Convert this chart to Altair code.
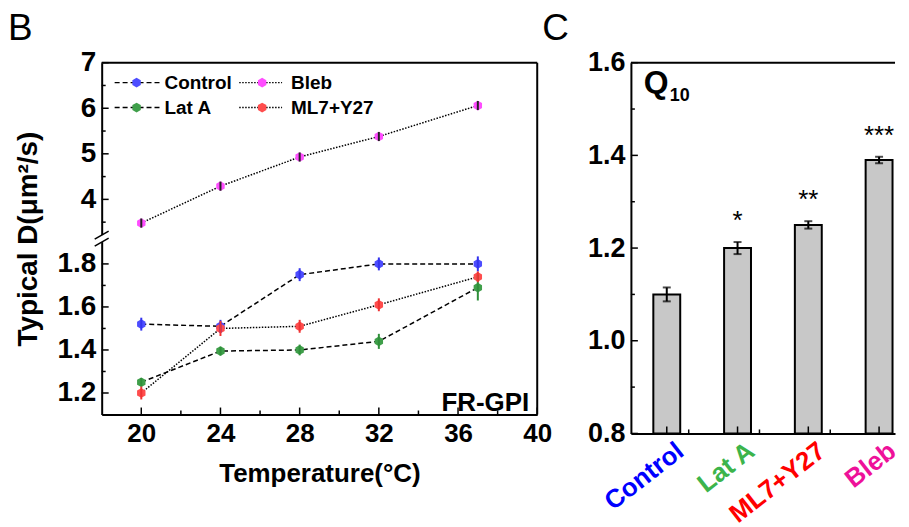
import altair as alt
import pandas as pd

FONT = "Liberation Sans"

# ---------------- Panel B data ----------------
temps = [20, 24, 28, 32, 37]
series_names = ["Control", "Lat A", "Bleb", "ML7+Y27"]
control_d = [1.52, 1.51, 1.75, 1.80, 1.80]
control_err = [0.03, 0.03, 0.03, 0.03, 0.035]
lata_d = [1.25, 1.395, 1.40, 1.44, 1.69]
lata_err = [0.02, 0.02, 0.025, 0.035, 0.06]
bleb_d = [3.48, 4.29, 4.93, 5.38, 6.06]
bleb_err = [0.1, 0.1, 0.1, 0.1, 0.1]
ml7_d = [1.20, 1.50, 1.51, 1.61, 1.74]
ml7_err = [0.03, 0.035, 0.03, 0.03, 0.025]

marker_colors = ["#4d4dff", "#3f9f4a", "#ff4dff", "#ff4d4d"]
err_colors = ["#3333ee", "#2f8f3a", "#222222", "#ee3333"]
dash_styles = [[5, 3], [5, 3], [1.5, 1.5], [1.5, 1.5]]

x_major = [20, 24, 28, 32, 36, 40]
x_minor = [22, 26, 30, 34, 38]
y_major = [1.2, 1.4, 1.6, 1.8, 4, 5, 6, 7]
y_minor = [1.3, 1.5, 1.7, 3.5, 4.5, 5.5, 6.5]

# ---------------- Panel C data ----------------
cats = ["Control", "Lat A", "ML7+Y27", "Bleb"]
q10 = [1.10, 1.20, 1.25, 1.39]
q10_err = [0.015, 0.013, 0.008, 0.007]
stars = ["", "*", "**", "***"]
cat_colors = ["#0000ff", "#3cb44b", "#ff0000", "#ee1199"]
c_major = [0.8, 1.0, 1.2, 1.4, 1.6]
c_minor = [0.9, 1.1, 1.3, 1.5]

HEX = "M0,-1L0.866,-0.5L0.866,0.5L0,1L-0.866,0.5L-0.866,-0.5Z"

rows = []
for name, vals, errs, mc, ec in zip(
    series_names,
    [control_d, lata_d, bleb_d, ml7_d],
    [control_err, lata_err, bleb_err, ml7_err],
    marker_colors,
    err_colors,
):
    for t, v, e in zip(temps, vals, errs):
        rows.append(dict(series=name, T=t, D=v, lo=v - e, hi=v + e, mcolor=mc, ecolor=ec))
df = pd.DataFrame(rows)

WB, HB = 437, 353
BRK = 176
xscale = alt.Scale(domain=[18, 40], nice=False, zero=False)
yscale = alt.Scale(domain=[1.1, 1.92, 3.15, 7], range=[HB, BRK, BRK, 0], nice=False, zero=False)

axB_x = alt.Axis(
    values=x_major, ticks=False, grid=False, labelFont=FONT, labelFontSize=26,
    labelFontWeight="bold", labelColor="black", labelPadding=6, labelFlush=False,
    domainColor="black", domainWidth=2, title="Temperature(°C)",
    titleFont=FONT, titleFontSize=26, titleFontWeight="bold", titleColor="black",
    titlePadding=14,
)
axB_y = alt.Axis(
    values=y_major, ticks=False, grid=False,
    labelExpr="datum.value > 3 ? format(datum.value, 'd') : format(datum.value, '.1f')",
    labelFont=FONT, labelFontSize=28, labelFontWeight="bold", labelColor="black",
    labelPadding=6, labelFlush=False, domainColor="black", domainWidth=2,
    title="Typical D(μm²/s)", titleFont=FONT, titleFontSize=28,
    titleFontWeight="bold", titleColor="black", titlePadding=14,
)

def XB(f):
    return alt.X(f, type="quantitative", scale=xscale, axis=axB_x)

def YB(f):
    return alt.Y(f, type="quantitative", scale=yscale, axis=axB_y)

base = alt.Chart(df)
lines = base.mark_line(color="black", strokeWidth=1.5).encode(
    x=XB("T"), y=YB("D"),
    detail="series:N",
    strokeDash=alt.StrokeDash(
        "series:N", scale=alt.Scale(domain=series_names, range=dash_styles), legend=None
    ),
)
points = base.mark_point(shape=HEX, filled=True, size=95, opacity=1).encode(
    x=XB("T"), y=YB("D"), color=alt.Color("mcolor:N", scale=None),
)
errs = base.mark_rule(strokeWidth=2).encode(
    x=XB("T"), y=YB("lo"), y2="hi:Q", color=alt.Color("ecolor:N", scale=None),
)

ytick_major = alt.Chart(pd.DataFrame({"v": y_major})).mark_rule(color="black", strokeWidth=1.5).encode(
    y=YB("v"), x=alt.value(0), x2=alt.value(7)
)
ytick_minor = alt.Chart(pd.DataFrame({"v": y_minor})).mark_rule(color="black", strokeWidth=1.5).encode(
    y=YB("v"), x=alt.value(0), x2=alt.value(4)
)
xtick_major = alt.Chart(pd.DataFrame({"v": x_major})).mark_rule(color="black", strokeWidth=1.5).encode(
    x=XB("v"), y=alt.value(HB), y2=alt.value(HB - 7)
)
xtick_minor = alt.Chart(pd.DataFrame({"v": x_minor})).mark_rule(color="black", strokeWidth=1.5).encode(
    x=XB("v"), y=alt.value(HB), y2=alt.value(HB - 4)
)

one = pd.DataFrame({"a": [0]})
frame_top = alt.Chart(one).mark_rule(color="black", strokeWidth=2).encode(
    x=alt.value(0), x2=alt.value(WB), y=alt.value(0)
)
frame_right = alt.Chart(one).mark_rule(color="black", strokeWidth=2).encode(
    x=alt.value(WB), y=alt.value(0), y2=alt.value(HB)
)
cover = alt.Chart(one).mark_rect(color="white").encode(
    x=alt.value(-6), x2=alt.value(6), y=alt.value(BRK - 3), y2=alt.value(BRK + 4)
)
slash1 = alt.Chart(one).mark_rule(color="black", strokeWidth=1.5).encode(
    x=alt.value(-7), x2=alt.value(7), y=alt.value(BRK + 1), y2=alt.value(BRK - 7)
)
slash2 = alt.Chart(one).mark_rule(color="black", strokeWidth=1.5).encode(
    x=alt.value(-7), x2=alt.value(7), y=alt.value(BRK + 8), y2=alt.value(BRK)
)
fr_gpi = alt.Chart(one).mark_text(
    text="FR-GPI", font=FONT, fontSize=26, fontWeight="bold", align="right", baseline="alphabetic", color="black"
).encode(x=alt.value(WB - 8), y=alt.value(HB - 4))
label_b = alt.Chart(one).mark_text(
    text="B", font=FONT, fontSize=37, align="left", baseline="alphabetic", color="black"
).encode(x=alt.value(-94), y=alt.value(-23))

legend_layers = []
for i, name in enumerate(series_names):
    col, row = i // 2, i % 2
    x0 = [13, 138][col]
    x1 = [58, 181][col]
    mx = [35, 161][col]
    tx = [63, 190][col]
    ly = [20, 45][row]
    src = alt.Chart(pd.DataFrame({"series": [name]}))
    legend_layers.append(
        src.mark_rule(color="black", strokeWidth=1.5, strokeDash=dash_styles[i]).encode(
            x=alt.value(x0), x2=alt.value(x1), y=alt.value(ly)
        )
    )
    legend_layers.append(
        src.mark_point(shape=HEX, filled=True, size=95, opacity=1, color=marker_colors[i]).encode(
            x=alt.value(mx), y=alt.value(ly)
        )
    )
    legend_layers.append(
        src.mark_text(
            text=name, font=FONT, fontSize=19, fontWeight="bold", align="left", baseline="middle", color="black"
        ).encode(x=alt.value(tx), y=alt.value(ly))
    )

panel_b = alt.layer(
    lines, points, errs, ytick_major, ytick_minor, xtick_major, xtick_minor,
    frame_top, frame_right, cover, slash1, slash2, fr_gpi, label_b, *legend_layers
).properties(width=WB, height=HB)

# ---------------- Panel C ----------------
WC, HC = 265, 372
cdf = pd.DataFrame({
    "cat": cats, "q": q10, "lo": [q - e for q, e in zip(q10, q10_err)],
    "hi": [q + e for q, e in zip(q10, q10_err)], "stars": stars, "lcolor": cat_colors,
})
xs_c = alt.Scale(domain=cats, paddingInner=0.62, paddingOuter=0.176, align=0.9)
ys_c = alt.Scale(domain=[0.8, 1.6], nice=False, zero=False)
axC_x = alt.Axis(labels=False, ticks=False, title=None, domainColor="black", domainWidth=2, grid=False)
axC_y = alt.Axis(
    values=c_major, format=".1f", ticks=False, grid=False, title=None,
    labelFont=FONT, labelFontSize=27, labelFontWeight="bold", labelColor="black",
    labelPadding=6, labelFlush=False, domainColor="black", domainWidth=2,
)

def XC(**kw):
    return alt.X("cat", type="nominal", scale=xs_c, sort=cats, axis=axC_x, **kw)

def YC(f):
    return alt.Y(f, type="quantitative", scale=ys_c, axis=axC_y)

cbase = alt.Chart(cdf)
bars = cbase.mark_bar(fill="#c8c8c8", stroke="black", strokeWidth=2).encode(
    x=XC(), y=YC("q"), y2=alt.datum(0.8),
)
cerr = cbase.mark_rule(color="black", strokeWidth=2).encode(x=XC(), y=YC("lo"), y2="hi:Q")
cap_lo = cbase.mark_tick(color="black", thickness=2, size=8, orient="horizontal").encode(x=XC(), y=YC("lo"))
cap_hi = cbase.mark_tick(color="black", thickness=2, size=8, orient="horizontal").encode(x=XC(), y=YC("hi"))
star_text = cbase.mark_text(font=FONT, fontSize=26, color="black", baseline="alphabetic", dy=-13).encode(
    x=XC(), y=YC("hi"), text="stars:N"
)
cat_labels = cbase.mark_text(
    font=FONT, fontSize=26, fontWeight="bold", angle=322, align="right", baseline="alphabetic", dx=2, dy=28
).encode(
    x=XC(), y=alt.value(HC), text="cat:N", color=alt.Color("lcolor:N", scale=None),
)
cx_major = cbase.mark_rule(color="black", strokeWidth=1.5).encode(
    x=XC(), y=alt.value(HC), y2=alt.value(HC - 7)
)
cx_minor = alt.Chart(pd.DataFrame({"cat": cats[:3]})).mark_rule(color="black", strokeWidth=1.5).encode(
    x=XC(), xOffset=alt.value(35.5), y=alt.value(HC), y2=alt.value(HC - 4)
)
cy_major = alt.Chart(pd.DataFrame({"v": c_major})).mark_rule(color="black", strokeWidth=1.5).encode(
    y=YC("v"), x=alt.value(0), x2=alt.value(7)
)
cy_minor = alt.Chart(pd.DataFrame({"v": c_minor})).mark_rule(color="black", strokeWidth=1.5).encode(
    y=YC("v"), x=alt.value(0), x2=alt.value(4)
)
c_top = alt.Chart(one).mark_rule(color="black", strokeWidth=2).encode(
    x=alt.value(0), x2=alt.value(WC), y=alt.value(0)
)
q_text = alt.Chart(one).mark_text(
    text="Q", font=FONT, fontSize=32, fontWeight="bold", align="left", baseline="alphabetic", color="black"
).encode(x=alt.value(13), y=alt.value(30))
q_sub = alt.Chart(one).mark_text(
    text="10", font=FONT, fontSize=18, fontWeight="bold", align="left", baseline="alphabetic", color="black"
).encode(x=alt.value(39), y=alt.value(38))
label_c = alt.Chart(one).mark_text(
    text="C", font=FONT, fontSize=37, align="left", baseline="alphabetic", color="black"
).encode(x=alt.value(-89), y=alt.value(-23))

panel_c = alt.layer(
    bars, cerr, cap_lo, cap_hi, star_text, cat_labels, cx_major, cx_minor, cy_major, cy_minor,
    c_top, q_text, q_sub, label_c
).properties(width=WC, height=HC)

chart = alt.hconcat(panel_b, panel_c, spacing=94, bounds="flush").properties(
    padding={"left": 0, "top": 1, "right": 0, "bottom": 0}, background="white"
).configure_view(stroke=None)

chart.save("out.html", embed_options={"renderer": "svg", "actions": False})
